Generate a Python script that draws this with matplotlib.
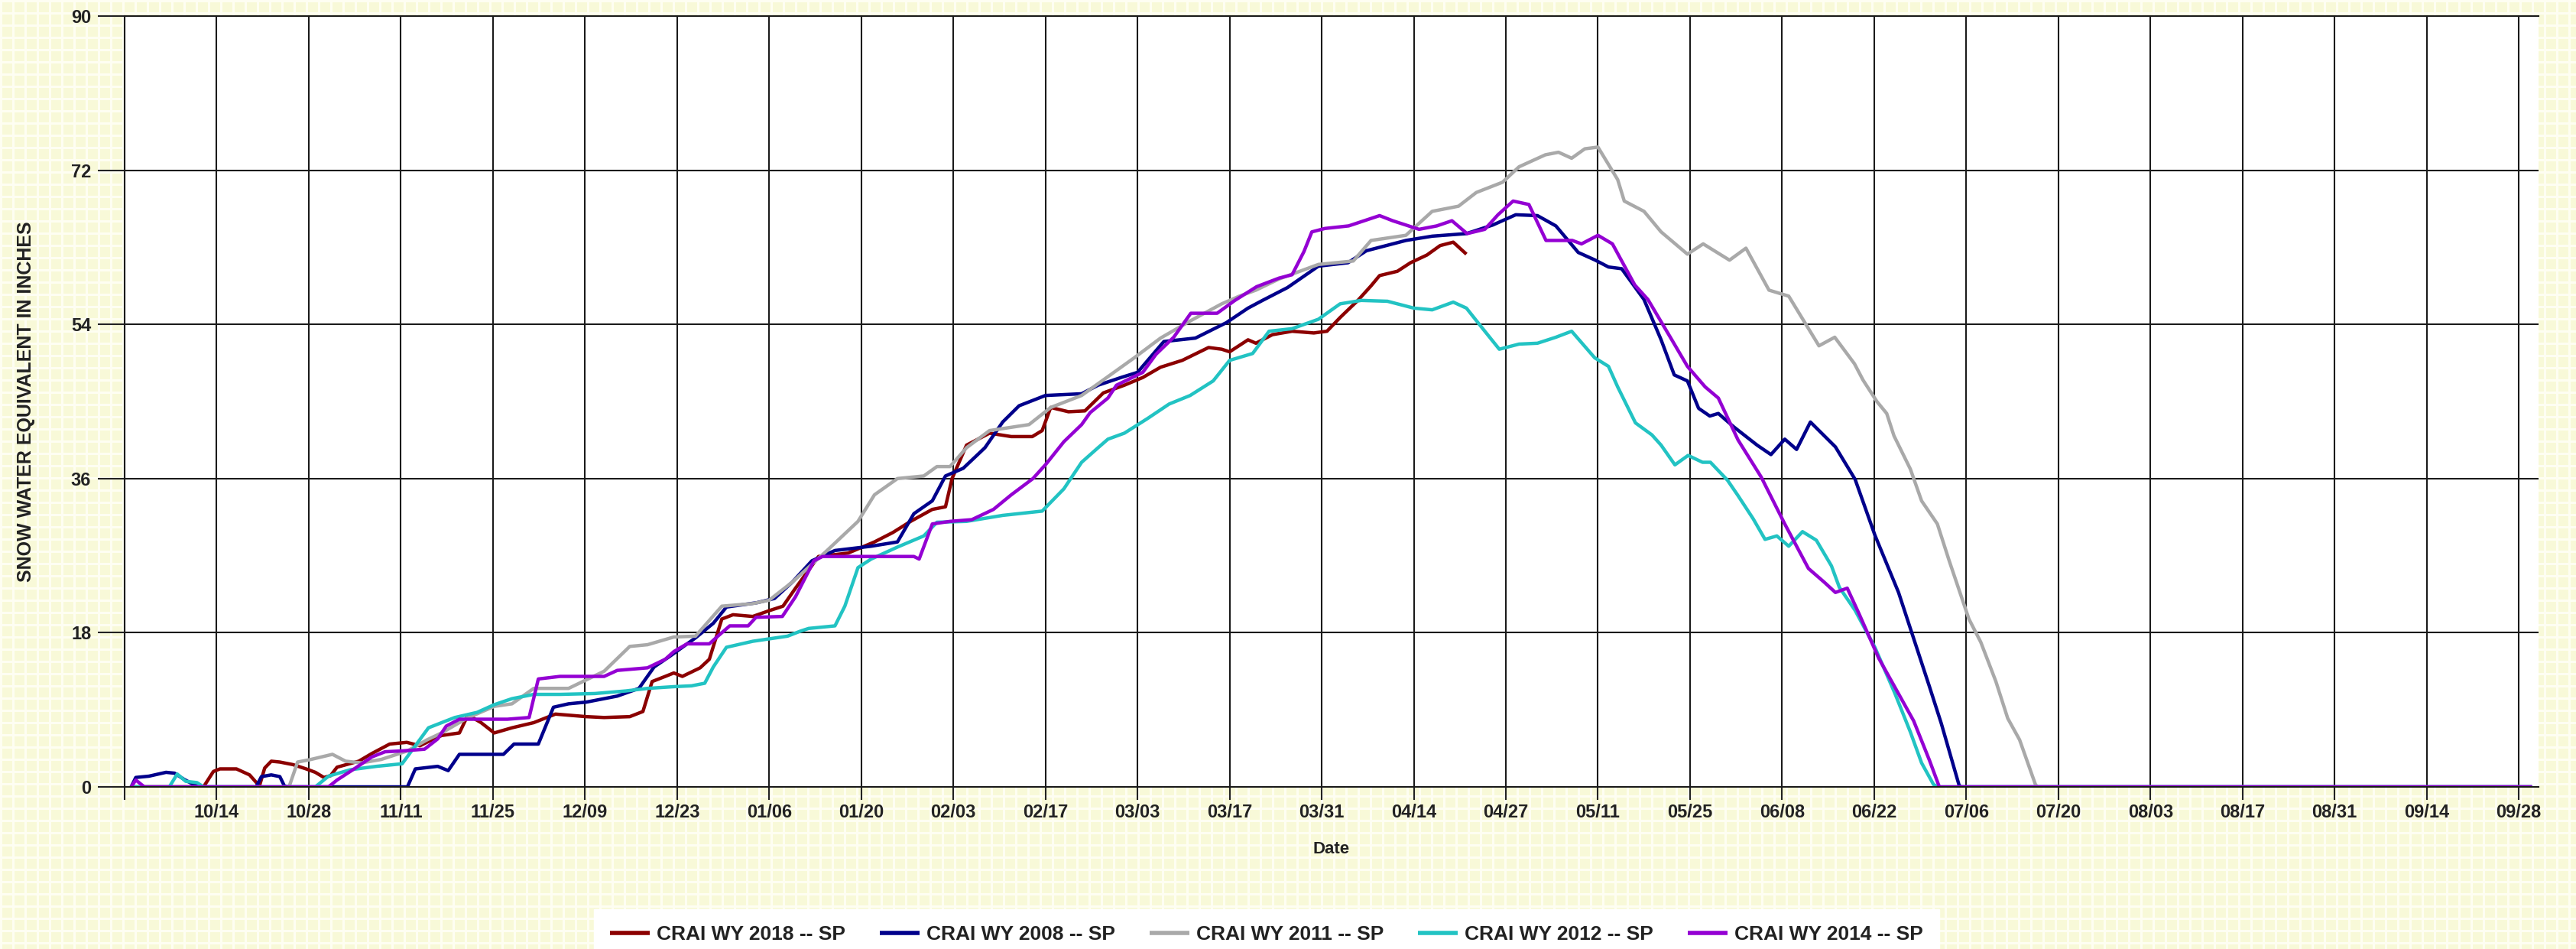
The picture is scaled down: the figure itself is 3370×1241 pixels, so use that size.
import numpy as np
import matplotlib
matplotlib.use('Agg')
import matplotlib.pyplot as plt

# ---------------- data ----------------
tick_labels = ['', '10/14', '10/28', '11/11', '11/25', '12/09', '12/23', '01/06', '01/20',
               '02/03', '02/17', '03/03', '03/17', '03/31', '04/14', '04/27', '05/11',
               '05/25', '06/08', '06/22', '07/06', '07/20', '08/03', '08/17', '08/31',
               '09/14', '09/28']
tick_days = [-1 + 14 * k for k in range(len(tick_labels))]
y_ticks = [0, 18, 36, 54, 72, 90]

names = ['CRAI WY 2018 -- SP', 'CRAI WY 2008 -- SP', 'CRAI WY 2011 -- SP',
         'CRAI WY 2012 -- SP', 'CRAI WY 2014 -- SP']
colors = ['#8B0000', '#00008B', '#A9A9A9', '#22C3C3', '#9400D3']

# day index: 0 = Oct 1 of the water year
d2018 = [0, 11, 12.5, 13.5, 16, 18, 19.5, 20.3, 21.3, 22.6, 24.6, 26.6, 28, 29.3, 30.3, 31.3,
         34.6, 36.6, 39.3, 41.9, 43.9, 45.2, 47.2, 49.9, 51.2, 53.2, 55.2, 57.9, 61.2, 64.5,
         69.2, 71.9, 75.8, 77.8, 79.2, 81.2, 82.5, 83.8, 86.5, 87.9, 89.8, 91.5, 94.5, 97.1,
         99.1, 101, 104.5, 109, 113, 115.8, 118.5, 121.8, 123.8, 124.8, 127, 130.5, 133.8,
         137, 138.5, 139.8, 142.5, 145, 147.8, 151, 153.8, 156.5, 159.8, 163.8, 165.8, 167,
         169.8, 171, 173.5, 176.5, 179.8, 181.8, 183.8, 186.5, 188.5, 189.8, 192.5, 194.5,
         197, 199, 201, 203]
v2018 = [0, 0, 1.8, 2.1, 2.1, 1.4, 0.1, 2.2, 3.0, 2.9, 2.6, 2.1, 1.7, 1.1, 1.3, 2.3,
         3.0, 3.9, 5.0, 5.2, 4.8, 5.3, 6.0, 6.3, 8.4, 7.5, 6.3, 6.9, 7.5, 8.5,
         8.2, 8.1, 8.2, 8.8, 12.3, 12.9, 13.3, 12.9, 13.9, 14.9, 19.6, 20.1, 19.9, 20.6,
         21.1, 23.2, 26.9, 27.3, 28.6, 29.7, 31.0, 32.4, 32.7, 36.0, 39.9, 41.3, 40.9,
         40.9, 41.6, 44.3, 43.8, 43.9, 46.0, 46.9, 47.8, 49.0, 49.8, 51.3, 51.1, 50.8,
         52.2, 51.8, 52.8, 53.2, 53.0, 53.2, 54.8, 56.8, 58.5, 59.7, 60.2, 61.2,
         62.1, 63.2, 63.6, 62.2]

d2008 = [0, 0.7, 2.7, 5.3, 6.6, 8, 9.3, 10.6, 19, 19.8, 21.3, 22.6, 23.3, 24, 42, 43.2,
         46.6, 48.2, 49.9, 56.6, 58.2, 61.9, 64.2, 66.5, 69.2, 73.9, 77.2, 79.5, 81.8,
         85.8, 88.5, 90.5, 95.1, 97.8, 100.5, 103.5, 107, 112.5, 116.5, 119, 121.8, 123.8,
         126.5, 129.8, 132.5, 135, 139, 144.5, 147, 150.5, 153, 157, 161.8, 166.5, 169.8,
         172, 175.8, 180.5, 185, 187.8, 193.8, 197.8, 203, 207, 210.5, 213.8, 216.6, 220,
         222.6, 224.6, 226.6, 230, 232.6, 234.6, 236.6, 238.3, 240, 241.3, 243.7, 247.2,
         249.3, 251.4, 253.2, 255.3, 259.1, 262.1, 265.1, 268.7, 273.4, 275.2, 277.9,
         278.2, 365]
v2008 = [0, 1.1, 1.25, 1.7, 1.6, 0.9, 0.35, 0, 0, 1.2, 1.4, 1.2, 0.1, 0, 0, 2.1,
         2.4, 1.9, 3.8, 3.8, 5.0, 5.0, 9.3, 9.7, 9.9, 10.6, 11.5, 14.0, 15.2,
         17.4, 19.1, 21.0, 21.5, 22.0, 23.9, 26.4, 27.6, 28.1, 28.6, 31.9, 33.4, 36.3,
         37.2, 39.6, 42.6, 44.5, 45.7, 45.9, 46.9, 47.8, 48.4, 52.0, 52.4, 54.2, 55.9,
         56.8, 58.3, 60.8, 61.2, 62.6, 63.8, 64.3, 64.6, 65.6, 66.8, 66.7, 65.5, 62.4,
         61.5, 60.7, 60.5, 56.9, 52.2, 48.1, 47.4, 44.2, 43.3, 43.6, 42.0, 39.9,
         38.8, 40.6, 39.4, 42.6, 39.7, 35.9, 29.4, 22.7, 11.7, 7.4, 0.2,
         0, 0]

d2011 = [0, 24, 25.3, 27.3, 30.6, 32.6, 35, 38, 42, 45, 47.2, 51, 55.2, 57.9, 61.2, 66.5,
         71.9, 75.8, 78.5, 82.5, 85.8, 89.8, 94.5, 97, 100.5, 105.8, 110.5, 113, 116.5,
         120.5, 122.5, 124.5, 127, 130.5, 136.5, 139.8, 144.5, 148.5, 152.5, 156.5, 161,
         165.8, 168.5, 171, 174.5, 180.5, 185.8, 188.5, 193.8, 197.8, 201.8, 204.5, 208.5,
         211, 215, 217, 219, 221, 223, 226, 227, 230, 232.6, 236.6, 239, 243, 245.5, 249,
         252, 256.6, 259, 262, 263.3, 265.4, 266.9, 268, 270.5, 272.2, 274.6, 276.4,
         279.4, 281.2, 283.5, 285.3, 287.1, 289.5, 289.8, 365]
v2011 = [0, 0, 2.9, 3.2, 3.8, 3.0, 2.8, 3.2, 4.2, 5.5, 6.3, 8.0, 9.4, 9.7, 11.5, 11.5,
         13.5, 16.4, 16.6, 17.5, 17.6, 21.1, 21.4, 21.8, 23.9, 27.6, 31.0, 34.1, 36.0,
         36.3, 37.4, 37.4, 39.6, 41.6, 42.3, 44.3, 45.7, 47.9, 50.1, 52.4, 54.4,
         56.4, 57.3, 58.0, 59.3, 61.0, 61.4, 63.8, 64.4, 67.2, 67.8, 69.4, 70.6,
         72.4, 73.8, 74.1, 73.4, 74.5, 74.7, 70.9, 68.4, 67.2, 64.8, 62.2, 63.4, 61.5, 62.9, 58.0,
         57.3, 51.5, 52.5, 49.4, 47.5, 45.0, 43.6, 41.0, 37.1, 33.4, 30.7, 26.4,
         19.6, 16.9, 12.3, 8.0, 5.5, 0.3, 0, 0]

d2012 = [0, 5.8, 7, 8.3, 10, 11, 28, 30, 33.3, 37.3, 41.2, 43.2, 45.2, 49.2, 52.6, 55.2,
         57.9, 61.2, 65.2, 70.5, 75.2, 78.5, 82.5, 85.2, 87.2, 88.5, 90.5, 94.5, 99.8,
         101.8, 103, 107, 108.5, 110.5, 112.5, 116.5, 120.5, 122.5, 127, 132.5, 138.5,
         141.8, 144.5, 147, 148.5, 151, 154.5, 157.8, 161, 164.5, 167, 170.5, 173, 176.5,
         180.5, 183.8, 187, 191, 195, 197.8, 201, 203, 205.8, 208, 211, 213.8, 216.6, 219,
         222.5, 224.6, 226, 228.7, 231.2, 232.6, 234.7, 236.7, 238.9, 240.1, 242.7, 244.3,
         246.6, 248.4, 250.2, 252, 254.1, 256.2, 258.5, 259.7, 262.1, 265.1, 268.1, 270.5,
         272.2, 274, 274.6, 365]
v2012 = [0, 0, 1.5, 0.65, 0.5, 0, 0, 1.25, 2.0, 2.4, 2.7, 4.8, 6.9, 8.1, 8.7, 9.6,
         10.3, 10.8, 10.8, 10.9, 11.2, 11.5, 11.7, 11.8, 12.1, 14.0, 16.3, 17.0, 17.6,
         18.2, 18.5, 18.8, 21.1, 25.6, 26.6, 28.0, 29.3, 30.9, 31.0, 31.7, 32.2,
         34.8, 37.9, 39.6, 40.6, 41.3, 43.0, 44.7, 45.7, 47.4, 49.8, 50.6, 53.2, 53.5,
         54.6, 56.4, 56.8, 56.7, 55.9, 55.7, 56.6, 55.9, 53.2, 51.1, 51.7, 51.8, 52.5, 53.2,
         50.1, 49.1, 46.7, 42.5, 41.1, 39.9, 37.6, 38.7, 37.9, 37.9, 35.8, 34.0,
         31.3, 28.9, 29.3, 28.1, 29.8, 28.8, 25.8, 23.3, 20.6, 16.3, 11.0, 6.4,
         2.8, 0.3, 0, 0]

d2014 = [0, 0.7, 2, 30, 31.3, 33.9, 36.6, 38.6, 41.2, 44.6, 46.6, 47.9, 49.9, 53.9, 57.2,
         60.5, 61.9, 65.2, 71.9, 73.9, 78.5, 81.2, 82.5, 84.5, 87.9, 89.2, 91, 93.8, 95, 99,
         101, 103.8, 105.1, 111, 119, 119.8, 121.8, 124.5, 127.8, 131.1, 133.8, 137.1,
         139.1, 141.8, 144.5, 145.8, 148.5, 149.8, 153.8, 155.8, 158.5, 161.1, 165.1,
         167.8, 171.1, 174.5, 176.5, 178.3, 179.5, 181.5, 185.1, 189.8, 191.8, 195.8,
         198.5, 200.8, 203.1, 205.8, 207.8, 210.1, 212.5, 215.1, 219.1, 220.5, 223, 225.2,
         228.6, 230.6, 234, 236.6, 239.3, 241.3, 244.3, 247.8, 251.4, 255, 257.4, 259.1,
         260.9, 262.7, 265.7, 268.1, 271, 273.4, 274.9, 365]
v2014 = [0, 0.8, 0, 0, 0.8, 2.1, 3.5, 4.1, 4.2, 4.4, 5.6, 7.1, 7.9, 7.9, 7.9,
         8.1, 12.6, 12.9, 12.9, 13.6, 13.9, 14.9, 15.8, 16.7, 16.7, 17.6, 18.8, 18.8, 19.8, 19.9,
         22.2, 26.4, 26.9, 26.9, 26.9, 26.6, 30.7, 31.0, 31.2, 32.4, 34.1, 36.0,
         37.7, 40.3, 42.3, 43.7, 45.4, 46.9, 48.4, 50.5, 52.5, 55.3, 55.3,
         56.8, 58.4, 59.4, 59.8, 62.5, 64.8, 65.2, 65.5, 66.7, 66.1, 65.1,
         65.5, 66.1, 64.6, 65.1, 66.8, 68.4, 68.0, 63.8, 63.8, 63.4, 64.4, 63.4,
         58.6, 56.9, 52.5, 49.1, 46.7, 45.4, 40.5, 36.2, 30.7, 25.5, 23.9, 22.7,
         23.2, 20.2, 15.0, 11.7, 7.7, 3.1, 0, 0]

series_days = [d2018, d2008, d2011, d2012, d2014]
series_vals = [v2018, v2008, v2011, v2012, v2014]

# ---------------- figure ----------------
plt.rcParams['font.family'] = ['Liberation Sans', 'DejaVu Sans']
W, H = 3370, 1241
fig = plt.figure(figsize=(W / 100, H / 100), dpi=100)

# graph-paper background
bg = np.empty((H, W, 3), dtype=np.uint8)
bg[:] = (248, 249, 216)
rows = (np.arange(H) % 16) < 3
cols = (np.arange(W) % 16) < 3
bg[rows, :] = (254, 254, 242)
bg[:, cols] = (254, 254, 242)
fig.figimage(bg, 0, 0, zorder=-10)

ax = fig.add_axes([163 / W, 1 - 1029 / H, (3321 - 163) / W, (1029 - 21) / H])
ax.set_facecolor('white')

for d, v, c, n in zip(series_days, series_vals, colors, names):
    ax.plot(d, v, color=c, lw=3.2, label=n, solid_joinstyle='round', solid_capstyle='butt')

ax.set_xlim(-1, 366)
ax.set_ylim(0, 90)
ax.set_xticks(tick_days)
ax.set_xticklabels(tick_labels)
ax.set_yticks(y_ticks)
ax.set_yticklabels([str(t) for t in y_ticks])
ax.grid(True, color='#1a1a1a', lw=1.5)
ax.set_axisbelow(True)
for s in ['left', 'bottom', 'top']:
    ax.spines[s].set_color('#1a1a1a')
    ax.spines[s].set_linewidth(1.5)
ax.spines['right'].set_visible(False)
ax.tick_params(axis='y', length=25, width=1.5, pad=6.5, labelsize=17, colors='#222222')
ax.tick_params(axis='x', length=12, width=1.5, pad=3.6, labelsize=17, colors='#222222')
for lab in ax.get_xticklabels() + ax.get_yticklabels():
    lab.set_fontweight('bold')

fig.text(34 / W, 1 - 525 / H, 'SNOW WATER EQUIVALENT IN INCHES', rotation=90,
         ha='center', va='center', fontsize=18, fontweight='bold', color='#222222')
fig.text(1742 / W, 1 - 1111 / H, 'Date', ha='center', va='center',
         fontsize=16, fontweight='bold', color='#222222')

leg = fig.legend(loc='center', bbox_to_anchor=(1657 / W, 1 - 1222 / H), ncol=5,
                 prop={'size': 19, 'weight': 'bold'}, frameon=True, fancybox=False,
                 facecolor='white', edgecolor='white', framealpha=1,
                 handlelength=1.97, handletextpad=0.34, columnspacing=1.7,
                 borderpad=0.8, borderaxespad=0)
for h in leg.get_lines():
    h.set_linewidth(4.0)
for t in leg.get_texts():
    t.set_color('#222222')

fig.savefig('out.png', dpi=100)
